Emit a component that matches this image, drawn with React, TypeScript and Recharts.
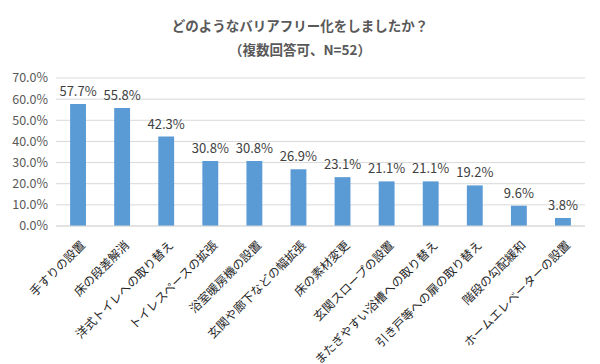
import { BarChart, Bar, XAxis, YAxis, CartesianGrid, LabelList } from 'recharts';

const categories = [
  '手すりの設置',
  '床の段差解消',
  '洋式トイレへの取り替え',
  'トイレスペースの拡張',
  '浴室暖房機の設置',
  '玄関や廊下などの幅拡張',
  '床の素材変更',
  '玄関スロープの設置',
  'またぎやすい浴槽への取り替え',
  '引き戸等への扉の取り替え',
  '階段の勾配緩和',
  'ホームエレベーターの設置',
];
const values = [57.7, 55.8, 42.3, 30.8, 30.8, 26.9, 23.1, 21.1, 21.1, 19.2, 9.6, 3.8];
const yTicks = [0, 10, 20, 30, 40, 50, 60, 70];

const data = categories.map((name, i) => ({ name, value: values[i] }));

const FONT = '"Noto Sans CJK JP", "Noto Sans", sans-serif';

function XTick({ x, y, payload }: any) {
  return (
    <g transform={`translate(${x + 5},${y + 9}) rotate(-45)`}>
      <text textAnchor="end" dy="0.35em" fontSize={12} fill="#262626" fontFamily={FONT}>
        {payload.value}
      </text>
    </g>
  );
}

export default function App() {
  return (
    <div style={{ position: 'absolute', left: 0, top: 0, width: 600, height: 364, background: '#fff', fontFamily: FONT }}>
      <div style={{ position: 'absolute', top: 13, width: 600, textAlign: 'center', color: '#595959', fontWeight: 'bold', fontSize: 13.5, lineHeight: '24px' }}>
        <div>どのようなバリアフリー化をしましたか？</div>
        <div>（複数回答可、N=52）</div>
      </div>
      <BarChart
        width={600}
        height={364}
        data={data}
        margin={{ top: 78, right: 15, left: 6, bottom: 8 }}
        barCategoryGap="68%"
      >
        <CartesianGrid vertical={false} stroke="#d9d9d9" />
        <XAxis
          dataKey="name"
          interval={0}
          height={130}
          tick={<XTick />}
          tickLine={false}
          axisLine={{ stroke: '#d9d9d9' }}
        />
        <YAxis
          width={50}
          domain={[0, 70]}
          ticks={yTicks}
          interval={0}
          tickFormatter={(v: number) => `${v.toFixed(1)}%`}
          tick={{ fontSize: 12.5, fill: '#595959', fontFamily: FONT }}
          axisLine={false}
          tickLine={false}
        />
        <Bar dataKey="value" fill="#5b9bd5" isAnimationActive={false}>
          <LabelList
            dataKey="value"
            position="top"
            offset={8}
            formatter={(v: any) => `${Number(v).toFixed(1)}%`}
            style={{ fontSize: 13, fill: '#404040', fontFamily: FONT }}
          />
        </Bar>
      </BarChart>
    </div>
  );
}
